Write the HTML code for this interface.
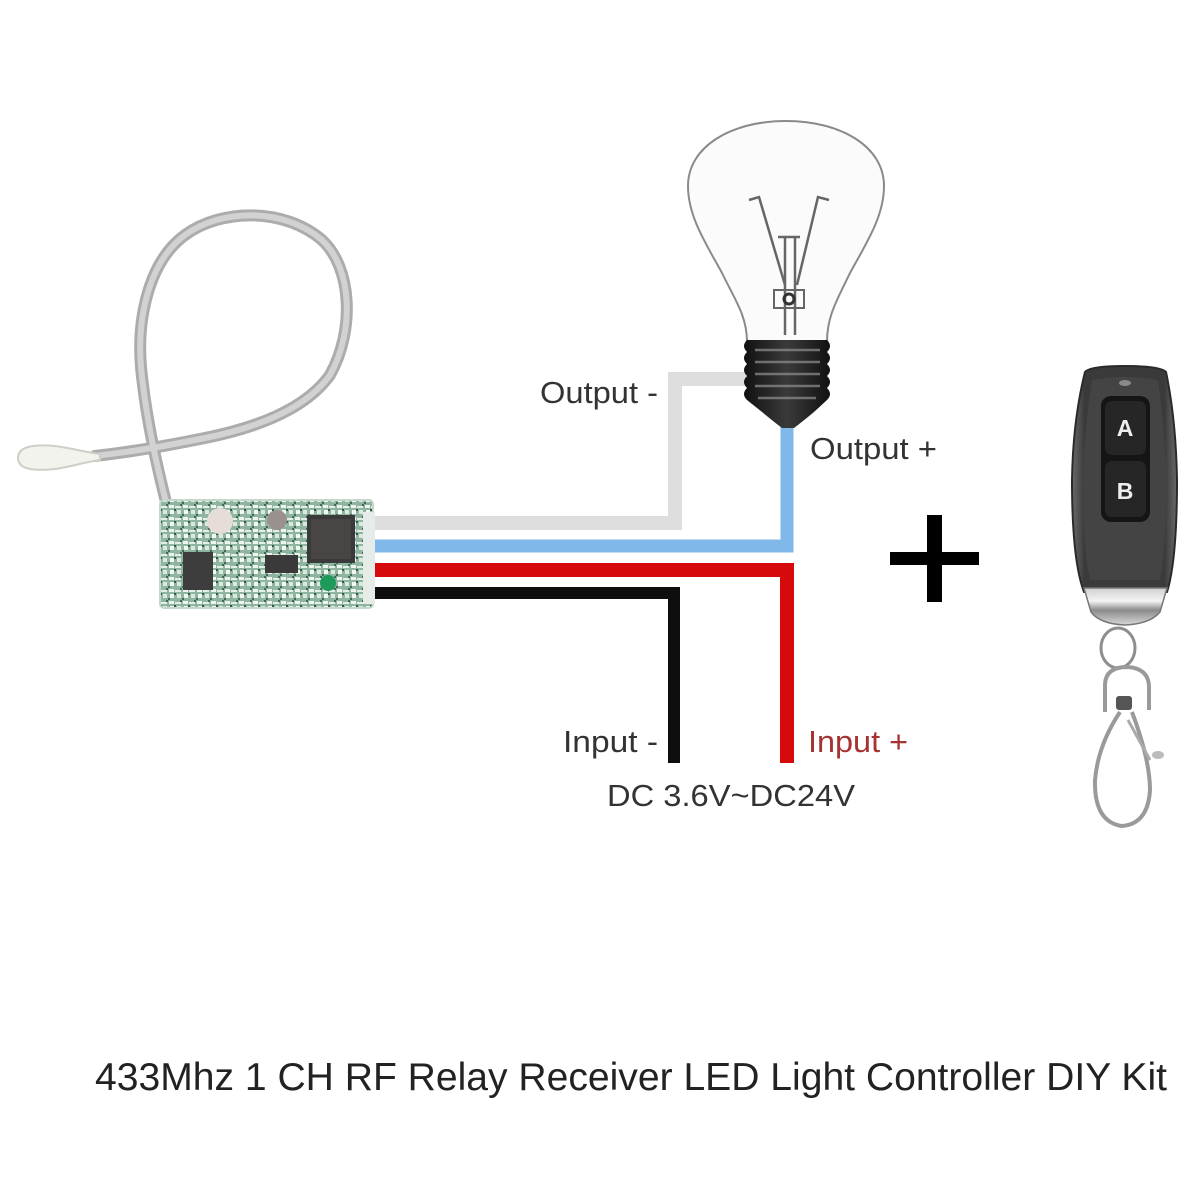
<!DOCTYPE html>
<html><head><meta charset="utf-8"><style>
html,body{margin:0;padding:0;background:#fff;}
svg{display:block;}
</style></head><body>
<svg width="1200" height="1200" viewBox="0 0 1200 1200" xmlns="http://www.w3.org/2000/svg">
<defs>
  <pattern id="pcb" width="14" height="12" patternUnits="userSpaceOnUse">
    <rect width="14" height="12" fill="#8fb5a0"/>
    <rect x="1" y="1" width="5" height="3" fill="#eef5f0"/>
    <rect x="7" y="2" width="6" height="2" fill="#e2eee6"/>
    <rect x="2" y="6" width="4" height="4" fill="#f4f8f5"/>
    <rect x="9" y="6" width="4" height="4" fill="#dbe9df"/>
    <rect x="6" y="5" width="2" height="2" fill="#2f5a45"/>
    <rect x="0" y="10" width="2" height="2" fill="#3d6b55"/>
    <rect x="12" y="0" width="2" height="2" fill="#3d6b55"/>
  </pattern>
  <linearGradient id="chrome" x1="0" y1="0" x2="0" y2="1">
    <stop offset="0" stop-color="#cfcfcf"/>
    <stop offset="0.35" stop-color="#f4f4f4"/>
    <stop offset="0.6" stop-color="#8a8a8a"/>
    <stop offset="1" stop-color="#d8d8d8"/>
  </linearGradient>
  <linearGradient id="body" x1="0" y1="0" x2="1" y2="0">
    <stop offset="0" stop-color="#6a6a6a"/>
    <stop offset="0.12" stop-color="#3a3a3a"/>
    <stop offset="0.88" stop-color="#3a3a3a"/>
    <stop offset="1" stop-color="#6a6a6a"/>
  </linearGradient>
  <linearGradient id="base" x1="0" y1="0" x2="1" y2="0">
    <stop offset="0" stop-color="#111"/>
    <stop offset="0.5" stop-color="#3a3a3a"/>
    <stop offset="1" stop-color="#111"/>
  </linearGradient>
</defs>

<!-- Antenna cable -->
<path d="M166,502 C158,470 146,420 141,367 C137,320 148,262 185,235 C222,208 285,208 322,240 C352,268 355,330 330,375 C305,410 255,428 205,438 C175,444 145,450 95,456"
      fill="none" stroke="#acacac" stroke-width="12" stroke-linecap="round"/>
<path d="M166,502 C158,470 146,420 141,367 C137,320 148,262 185,235 C222,208 285,208 322,240 C352,268 355,330 330,375 C305,410 255,428 205,438 C175,444 145,450 95,456"
      fill="none" stroke="#d2d2d2" stroke-width="6" stroke-linecap="round"/>
<!-- antenna tip -->
<path d="M18,458 C18,446 35,444 55,446 C70,448 85,452 100,454 L100,460 C85,462 70,467 55,469 C35,471 18,470 18,458 Z" fill="#f3f3ee" stroke="#cfcfc8" stroke-width="2"/>

<!-- Wires -->
<path d="M372,523 L675,523 L675,379 L746,379" fill="none" stroke="#dedede" stroke-width="14"/>
<path d="M372,546 L787,546 L787,426" fill="none" stroke="#80b8ea" stroke-width="13"/>
<path d="M372,570 L787,570 L787,763" fill="none" stroke="#d60a0a" stroke-width="14"/>
<path d="M372,593 L674,593 L674,763" fill="none" stroke="#0e0e0e" stroke-width="12"/>

<!-- PCB -->
<rect x="160" y="500" width="213" height="108" rx="4" fill="url(#pcb)" stroke="#c5d7cb" stroke-width="2"/>
<rect x="307" y="515" width="48" height="48" fill="#3a3a3a"/>
<rect x="311" y="519" width="40" height="40" fill="#4a4545"/>
<rect x="183" y="552" width="30" height="38" fill="#3d3d3d"/>
<rect x="265" y="555" width="33" height="18" fill="#3a3a3a"/>
<circle cx="220" cy="521" r="13" fill="#e6dcd8"/>
<circle cx="277" cy="520" r="10" fill="#9a9090"/>
<circle cx="328" cy="583" r="8" fill="#1e9a5a"/>
<rect x="363" y="512" width="12" height="92" fill="#e6ece8"/>

<!-- Bulb glass -->
<path d="M747,342 C747,316 735,300 722,273 C705,242 688,216 688,186 C688,146 732,121 786,121 C840,121 884,146 884,186 C884,216 867,242 850,273 C837,300 827,316 827,342"
      fill="#fbfbfb" stroke="#8a8a8a" stroke-width="2"/>
<!-- filament -->
<g fill="none" stroke="#666" stroke-width="2.5">
  <path d="M749,200 L759,197 L785,285"/>
  <path d="M829,200 L818,197 L797,285"/>
  <path d="M778,237 L800,237"/>
  <path d="M785,238 L785,335"/>
  <path d="M795,238 L795,335"/>
  <path d="M774,290 L804,290 L804,308 L774,308 Z" stroke-width="2"/>
</g>
<circle cx="789" cy="299" r="5" fill="none" stroke="#333" stroke-width="3"/>
<!-- screw base -->
<path d="M747,340 L827,340 Q833,346 827,352 Q833,358 827,364 Q833,370 827,376 Q833,382 827,388 Q833,394 827,400 L814,412 Q802,422 794,428 L782,428 Q774,422 762,412 L747,400 Q741,394 747,388 Q741,382 747,376 Q741,370 747,364 Q741,358 747,352 Q741,346 747,340 Z"
      fill="url(#base)"/>
<g stroke="#8a8a8a" stroke-width="2.5" opacity="0.75">
  <line x1="755" y1="350" x2="820" y2="350"/>
  <line x1="755" y1="362" x2="820" y2="362"/>
  <line x1="755" y1="374" x2="820" y2="374"/>
  <line x1="755" y1="386" x2="820" y2="386"/>
  <line x1="758" y1="398" x2="816" y2="398"/>
</g>

<!-- Plus sign -->
<rect x="890" y="552" width="89" height="13" fill="#000"/>
<rect x="927" y="515" width="15" height="87" fill="#000"/>

<!-- Remote -->
<path d="M1085,372 Q1090,366 1125,366 Q1160,366 1166,372 Q1176,420 1177,480 Q1177,560 1167,592 L1084,592 Q1072,560 1072,480 Q1073,420 1085,372 Z" fill="url(#body)" stroke="#2a2a2a" stroke-width="2"/>
<path d="M1092,380 Q1125,374 1158,380 Q1166,440 1166,480 Q1166,550 1160,580 L1090,580 Q1083,550 1083,480 Q1084,430 1092,380 Z" fill="#444"/>
<ellipse cx="1125" cy="383" rx="6" ry="3" fill="#8a8a8a"/>
<rect x="1101" y="396" width="49" height="126" rx="10" fill="#151515"/>
<rect x="1105" y="401" width="41" height="54" rx="7" fill="#262626"/>
<rect x="1105" y="461" width="41" height="56" rx="7" fill="#262626"/>
<text x="1125" y="436" font-family="Liberation Sans, sans-serif" font-size="23" font-weight="bold" fill="#eee" text-anchor="middle">A</text>
<text x="1125" y="499" font-family="Liberation Sans, sans-serif" font-size="23" font-weight="bold" fill="#eee" text-anchor="middle">B</text>
<path d="M1084,588 L1167,588 L1160,612 Q1150,624 1125,625 Q1100,624 1091,612 Z" fill="url(#chrome)" stroke="#777" stroke-width="1.5"/>
<!-- key ring -->
<ellipse cx="1118" cy="648" rx="17" ry="20" fill="none" stroke="#8e8e8e" stroke-width="3"/>
<path d="M1105,712 L1105,684 Q1106,667 1127,667 Q1148,668 1149,686 L1149,710" fill="none" stroke="#9a9a9a" stroke-width="4"/>
<rect x="1116" y="696" width="16" height="14" rx="3" fill="#555"/>
<path d="M1120,712 Q1098,745 1095,780 Q1094,822 1122,826 Q1148,824 1150,790 Q1150,760 1132,712" fill="none" stroke="#9a9a9a" stroke-width="4"/>
<path d="M1128,720 L1150,760" stroke="#aaa" stroke-width="3"/>
<ellipse cx="1158" cy="755" rx="6" ry="4" fill="#bbb"/>

<!-- Labels -->
<g font-family="Liberation Sans, Arial, sans-serif" font-size="31" fill="#333">
  <text x="540" y="403" textLength="118" lengthAdjust="spacingAndGlyphs">Output -</text>
  <text x="810" y="459" textLength="127" lengthAdjust="spacingAndGlyphs">Output +</text>
  <text x="563" y="752" textLength="95" lengthAdjust="spacingAndGlyphs">Input -</text>
  <text x="808" y="752" textLength="100" lengthAdjust="spacingAndGlyphs" fill="#a83232">Input +</text>
  <text x="607" y="806" textLength="248" lengthAdjust="spacingAndGlyphs">DC 3.6V~DC24V</text>
</g>
<text x="95" y="1090" font-family="Liberation Sans, Arial, sans-serif" font-size="39" fill="#222" textLength="1072" lengthAdjust="spacingAndGlyphs">433Mhz 1 CH RF Relay Receiver LED Light Controller DIY Kit</text>
</svg>
</body></html>
